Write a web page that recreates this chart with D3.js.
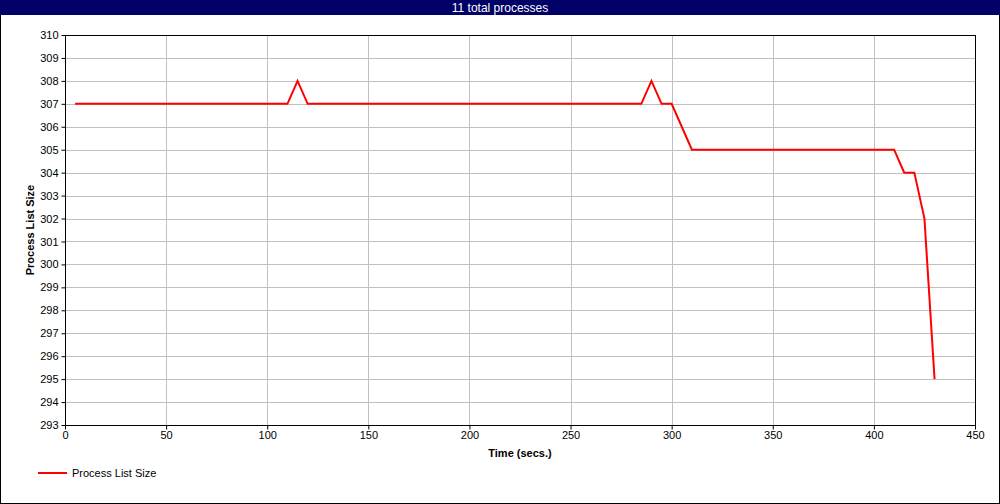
<!DOCTYPE html>
<html>
<head>
<meta charset="utf-8">
<script src="https://cdn.jsdelivr.net/npm/d3@7"></script>
<style>
  body { margin: 0; background: #fff; }
  svg { display: block; font-family: "Liberation Sans", Arial, sans-serif; }
</style>
</head>
<body>
<svg id="chart" width="1000" height="504"></svg>
<script>
// data
var times = [5, 110, 115, 120, 285, 290, 295, 300, 310, 410, 415, 420, 425, 430];
var sizes = [307, 307, 308, 307, 307, 308, 307, 307, 305, 305, 304, 304, 302, 295];
var xTicks = [0, 50, 100, 150, 200, 250, 300, 350, 400, 450];
var yTicks = d3.range(293, 311);
var titleText = "11 total processes";
var seriesName = "Process List Size";

var svg = d3.select("#chart");
var W = 1000, H = 504;
var plotL = 65, plotR = 975, plotT = 35, plotB = 425;

// outer frame + title bar
svg.append("rect").attr("x", 0.5).attr("y", 0.5).attr("width", W - 1).attr("height", H - 1)
  .attr("fill", "#fff").attr("stroke", "#000");
svg.append("rect").attr("x", 0).attr("y", 0).attr("width", W).attr("height", 15)
  .attr("fill", "#000066");
svg.append("text").attr("x", W / 2).attr("y", 12).attr("text-anchor", "middle")
  .attr("fill", "#fff").style("font-size", "12px").text(titleText);

var x = d3.scaleLinear().domain([0, 450]).range([plotL, plotR]);
var y = d3.scaleLinear().domain([293, 310]).range([plotB, plotT]);

// grid
svg.append("g").selectAll("line").data(xTicks).enter().append("line")
  .attr("x1", function (d) { return Math.round(x(d)) + 0.5; })
  .attr("x2", function (d) { return Math.round(x(d)) + 0.5; })
  .attr("y1", plotT).attr("y2", plotB)
  .attr("stroke", "#c0c0c0");
svg.append("g").selectAll("line").data(yTicks).enter().append("line")
  .attr("y1", function (d) { return Math.round(y(d)) + 0.5; })
  .attr("y2", function (d) { return Math.round(y(d)) + 0.5; })
  .attr("x1", plotL).attr("x2", plotR)
  .attr("stroke", "#c0c0c0");

// axes
var xAxis = d3.axisBottom(x).tickValues(xTicks).tickSize(4).tickPadding(2);
var yAxis = d3.axisLeft(y).tickValues(yTicks).tickSize(4).tickPadding(3);

var gx = svg.append("g").attr("transform", "translate(0," + (plotB + 0.5) + ")").call(xAxis);
var gy = svg.append("g").attr("transform", "translate(" + (plotL + 0.5) + ",0)").call(yAxis);
[gx, gy].forEach(function (g) {
  g.select(".domain").remove();
  g.selectAll("text").attr("fill", "#000").style("font-size", "11px").style("font-family", "Liberation Sans, Arial, sans-serif");
  g.selectAll("line").attr("stroke", "#000");
});

// plot frame
svg.append("rect").attr("x", plotL + 0.5).attr("y", plotT + 0.5)
  .attr("width", plotR - plotL).attr("height", plotB - plotT)
  .attr("fill", "none").attr("stroke", "#000");

// series line
var line = d3.line()
  .x(function (d, i) { return x(times[i]); })
  .y(function (d) { return y(d); });
svg.append("path").datum(sizes)
  .attr("d", line)
  .attr("fill", "none")
  .attr("stroke", "#ff0000")
  .attr("stroke-width", 2);

// axis titles
svg.append("text").attr("x", (plotL + plotR) / 2).attr("y", 457)
  .attr("text-anchor", "middle").style("font-size", "11px").style("font-weight", "bold")
  .text("Time (secs.)");
svg.append("text").attr("transform", "translate(34," + ((plotT + plotB) / 2) + ") rotate(-90)")
  .attr("text-anchor", "middle").style("font-size", "11px").style("font-weight", "bold")
  .text(seriesName);

// legend
svg.append("line").attr("x1", 38).attr("x2", 67).attr("y1", 473).attr("y2", 473)
  .attr("stroke", "#ff0000").attr("stroke-width", 2);
svg.append("text").attr("x", 72).attr("y", 477).style("font-size", "11px").text(seriesName);
</script>
</body>
</html>
